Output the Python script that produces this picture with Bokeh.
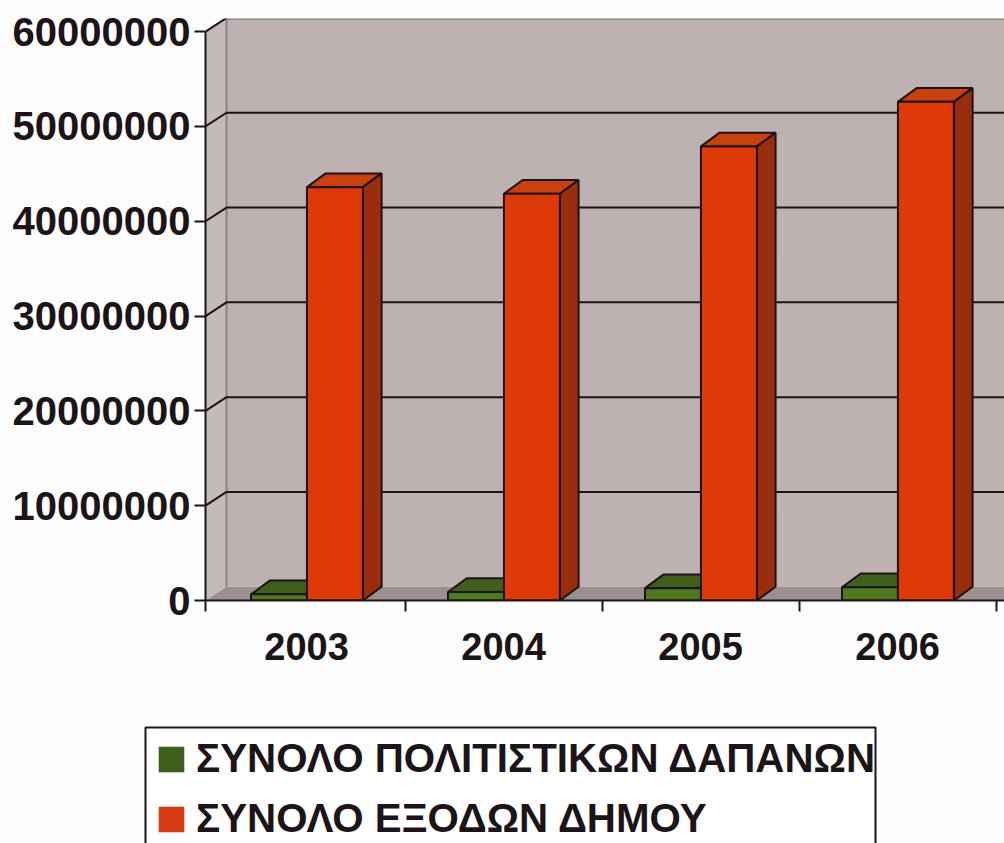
from bokeh.plotting import figure
from bokeh.layouts import column
from bokeh.models import Range1d, FixedTicker, NumeralTickFormatter, Legend, LegendItem, BoxAnnotation
from bokeh.embed import file_html
from bokeh.resources import INLINE

years = [2003, 2004, 2005, 2006]
culture = [650000, 900000, 1300000, 1400000]
total = [43600000, 42900000, 47900000, 52600000]
y_ticks = [0, 10000000, 20000000, 30000000, 40000000, 50000000, 60000000]
names = ["ΣΥΝΟΛΟ ΠΟΛΙΤΙΣΤΙΚΩΝ ΔΑΠΑΝΩΝ", "ΣΥΝΟΛΟ ΕΞΟΔΩΝ ΔΗΜΟΥ"]

X0, X1 = 2002.487, 2006.543
Y1 = 61390000
DX, DY = 0.1066, 1450000   # 3-D depth of the walls, in data units
DXB = 0.0950               # 3-D depth of the bars
W = 0.284
INK = "#1c1418"
FONT = "Liberation Sans"
PAGE = "#fdfdfd"

p = figure(width=1004, height=680, output_backend="svg", toolbar_location=None,
           x_range=Range1d(X0, X1), y_range=Range1d(0, Y1),
           min_border_left=205, min_border_right=0, min_border_top=18, min_border_bottom=80,
           background_fill_color=PAGE, border_fill_color=PAGE, outline_line_color=None)
p.grid.visible = False

# walls and floor
x_back = X0 + DX
p.patch([x_back, X1, X1, x_back], [DY, DY, Y1, Y1], fill_color="#bdb1b1", line_color=None)
p.line([x_back, X1], [Y1 - 50000, Y1 - 50000], line_color="#8f8589", line_width=2)
p.patch([X0, x_back, x_back, X0], [0, DY, Y1, Y1 - DY], fill_color="#c4baba", line_color=None)
p.patch([X0, x_back, X1, X1], [0, DY, DY, 0], fill_color="#9b8f90", line_color=None)
p.line([x_back, x_back], [DY, Y1], line_color="#8a8084", line_width=2)

# gridlines on wall
for t in y_ticks[1:-1]:
    p.line([X0, x_back, X1], [t, t + DY, t + DY], line_color=INK, line_width=2)
p.line([X0, x_back], [y_ticks[-1], y_ticks[-1] + DY], line_color=INK, line_width=2)


def bars(lefts, vals, front, top, side):
    for l, v in zip(lefts, vals):
        r = l + W
        p.patch([l, l + DXB, r + DXB, r], [v, v + DY, v + DY, v],
                fill_color=top, line_color=INK, line_width=2)
        p.patch([r, r + DXB, r + DXB, r], [0, DY, v + DY, v],
                fill_color=side, line_color=INK, line_width=2)
    p.quad(left=lefts, right=[l + W for l in lefts], bottom=[0] * len(vals), top=vals,
           fill_color=front, line_color=INK, line_width=2)


red_left = [y + 0.002 for y in years]
green_left = [l - W for l in red_left]
bars(green_left, culture, "#4d7a1e", "#3f5f1a", "#33501a")
bars(red_left, total, "#de3a07", "#c9410c", "#9a2e0c")

# axes
ya = p.yaxis[0]
ya.ticker = FixedTicker(ticks=y_ticks)
ya.formatter = NumeralTickFormatter(format="0")
ya.bounds = (0, 60000000)
ya.axis_line_color = INK
ya.axis_line_width = 2
ya.major_tick_line_color = INK
ya.major_tick_line_width = 2
ya.major_tick_in = 0
ya.major_tick_out = 11
ya.minor_tick_line_color = None
ya.major_label_standoff = 4
ya.major_label_text_font = FONT
ya.major_label_text_font_style = "bold"
ya.major_label_text_font_size = "40px"
ya.major_label_text_color = INK

xa = p.xaxis[0]
xa.ticker = FixedTicker(ticks=years, minor_ticks=[X0] + [y + 0.5 for y in years])
xa.major_label_overrides = {y: str(y) for y in years}
xa.axis_line_color = INK
xa.axis_line_width = 2
xa.major_tick_line_color = None
xa.minor_tick_line_color = INK
xa.minor_tick_line_width = 2
xa.minor_tick_in = 0
xa.minor_tick_out = 11
xa.major_tick_in = 0
xa.major_tick_out = 0
xa.major_label_standoff = 21
xa.major_label_text_font = FONT
xa.major_label_text_font_style = "bold"
xa.major_label_text_font_size = "38px"
xa.major_label_text_color = INK

# legend, in a strip of its own under the chart; its ranges count page pixels
q = figure(width=1004, height=163, output_backend="svg", toolbar_location=None,
           x_range=Range1d(0, 1004), y_range=Range1d(843, 680),
           x_axis_location=None, y_axis_location=None,
           min_border_left=0, min_border_right=0, min_border_top=0, min_border_bottom=0,
           background_fill_color=PAGE, border_fill_color=PAGE, outline_line_color=None)
q.grid.visible = False
q.add_layout(BoxAnnotation(left=145, right=875, top=727, bottom=870,
                           fill_color="#ffffff", fill_alpha=1,
                           line_color=INK, line_alpha=1, line_width=2))
# keys only: these two quads lie off the strip, the legend draws their swatches
k1 = q.quad(left=[-20], right=[-10], bottom=[700], top=[710], fill_color="#3e5f1c", line_color=None)
k2 = q.quad(left=[-20], right=[-10], bottom=[700], top=[710], fill_color="#d63a16", line_color=None)
legend = Legend(items=[LegendItem(label=names[0], renderers=[k1]),
                       LegendItem(label=names[1], renderers=[k2])],
                location=(155, 1), margin=0, padding=13, spacing=14,
                glyph_width=32, glyph_height=32, label_standoff=9,
                label_text_font=FONT, label_text_font_style="bold",
                label_text_font_size="40.3px", label_text_color=INK,
                border_line_color=None, background_fill_alpha=0)
q.add_layout(legend, "center")

open("out.html", "w").write(file_html(column(p, column(q), spacing=0), INLINE))
